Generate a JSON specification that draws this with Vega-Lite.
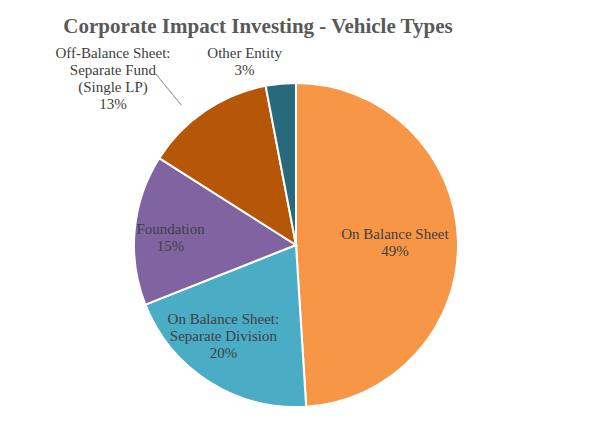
{
  "$schema": "https://vega.github.io/schema/vega-lite/v6.json",
  "width": 592,
  "height": 376,
  "autosize": "none",
  "padding": {"top": 57, "left": 0, "right": 0, "bottom": 0},
  "view": {"stroke": null},
  "title": {
    "text": "Corporate Impact Investing - Vehicle Types",
    "font": "Liberation Serif",
    "fontSize": 21,
    "fontWeight": "bold",
    "color": "#595959",
    "anchor": "middle",
    "frame": "group",
    "baseline": "alphabetic",
    "dx": -38,
    "offset": -35
  },
  "layer": [
    {
      "data": {
        "values": [
          {"i": 1, "name": "On Balance Sheet", "label": "On Balance Sheet\n49%", "pct": 49},
          {"i": 2, "name": "On Balance Sheet: Separate Division", "label": "On Balance Sheet:\nSeparate Division\n20%", "pct": 20},
          {"i": 3, "name": "Foundation", "label": "Foundation\n15%", "pct": 15},
          {"i": 4, "name": "Off-Balance Sheet: Separate Fund (Single LP)", "label": "Off-Balance Sheet:\nSeparate Fund\n(Single LP)\n13%", "pct": 13},
          {"i": 5, "name": "Other Entity", "label": "Other Entity\n3%", "pct": 3}
        ]
      },
      "encoding": {
        "theta": {"field": "pct", "type": "quantitative", "stack": true},
        "order": {"field": "i", "type": "quantitative"},
        "detail": {"field": "name", "type": "nominal"}
      },
      "layer": [
        {
          "mark": {"type": "arc", "outerRadius": 162, "stroke": "white", "strokeWidth": 2},
          "encoding": {
            "color": {
              "field": "name",
              "type": "nominal",
              "legend": null,
              "scale": {
                "domain": ["On Balance Sheet", "On Balance Sheet: Separate Division", "Foundation", "Off-Balance Sheet: Separate Fund (Single LP)", "Other Entity"],
                "range": ["#F79646", "#4BACC6", "#8064A2", "#B65708", "#276A7C"]
              }
            }
          }
        },
        {
          "mark": {"type": "text", "radius": 99, "dy": -8, "font": "Liberation Serif", "fontSize": 15, "color": "#404040", "lineBreak": "\n", "lineHeight": 17, "baseline": "middle"},
          "encoding": {"text": {"condition": {"test": "datum.i === 1", "field": "label"}, "value": ""}}
        },
        {
          "mark": {"type": "text", "radius": 115, "dx": -11, "dy": -23, "font": "Liberation Serif", "fontSize": 15, "color": "#404040", "lineBreak": "\n", "lineHeight": 17, "baseline": "middle"},
          "encoding": {"text": {"condition": {"test": "datum.i === 2", "field": "label"}, "value": ""}}
        },
        {
          "mark": {"type": "text", "radius": 126, "dy": -4, "font": "Liberation Serif", "fontSize": 15, "color": "#404040", "lineBreak": "\n", "lineHeight": 17, "baseline": "middle"},
          "encoding": {"text": {"condition": {"test": "datum.i === 3", "field": "label"}, "value": ""}}
        },
        {
          "mark": {"type": "text", "radius": 162, "dx": -92, "dy": -58, "font": "Liberation Serif", "fontSize": 15, "color": "#404040", "lineBreak": "\n", "lineHeight": 17, "baseline": "middle"},
          "encoding": {"text": {"condition": {"test": "datum.i === 4", "field": "label"}, "value": ""}}
        },
        {
          "mark": {"type": "text", "radius": 185, "dx": -34, "dy": -8, "font": "Liberation Serif", "fontSize": 15, "color": "#404040", "lineBreak": "\n", "lineHeight": 17, "baseline": "middle"},
          "encoding": {"text": {"condition": {"test": "datum.i === 5", "field": "label"}, "value": ""}}
        }
      ]
    },
    {
      "data": {"values": [{}]},
      "mark": {"type": "arc", "theta": 5.596, "theta2": 5.597, "radius": 181, "radius2": 222, "fill": "transparent", "stroke": "#A6A6A6", "strokeWidth": 1},
      "encoding": {}
    }
  ]
}
